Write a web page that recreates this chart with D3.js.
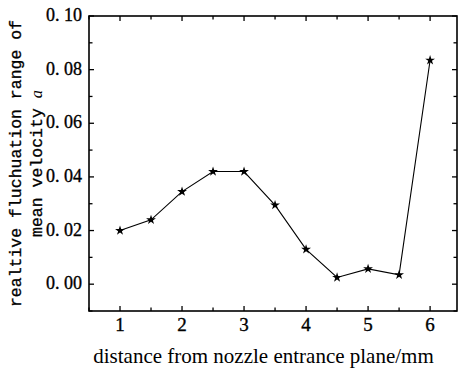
<!DOCTYPE html>
<html><head><meta charset="utf-8">
<script src="https://cdn.jsdelivr.net/npm/d3@7"></script>
<style>body{margin:0;background:#fff}svg{display:block}</style>
</head><body>
<script>
const distances = [1, 1.5, 2, 2.5, 3, 3.5, 4, 4.5, 5, 5.5, 6];
const fluctuation = [0.020, 0.024, 0.0345, 0.042, 0.042, 0.0295, 0.013, 0.0025, 0.0057, 0.0035, 0.0835];
const xTicks = [1, 2, 3, 4, 5, 6];
const yTicks = [0.00, 0.02, 0.04, 0.06, 0.08, 0.10];
const yTickLabels = ["0. 00", "0. 02", "0. 04", "0. 06", "0. 08", "0. 10"];

const W = 460, H = 371;
const m = {l: 89, t: 16, r: 2, b: 60};
const serif = "'Liberation Serif', 'Times New Roman', serif";
const svg = d3.select("body").append("svg").attr("width", W).attr("height", H);
const x = d3.scaleLinear().domain([0.5, 6.45]).range([m.l, W - m.r]);
const y = d3.scaleLinear().domain([-0.01, 0.10]).range([H - m.b, m.t]);
const black = "#000";

const xMinor = d3.range(0.5, 6.5, 0.5).filter(v => !xTicks.includes(v));
const yMinor = d3.range(-0.01, 0.1, 0.02).map(v => +v.toFixed(2));

function drawAxis(scale, major, minor, orient, pos) {
  const g = svg.append("g");
  const L = 5, Lm = 3.5;
  const all = major.map(v => [v, L]).concat(minor.map(v => [v, Lm]));
  all.forEach(([v, len]) => {
    const p = scale(v);
    let x1, y1, x2, y2;
    if (orient === "bottom") { x1 = x2 = p; y1 = pos; y2 = pos - len; }
    if (orient === "top") { x1 = x2 = p; y1 = pos; y2 = pos + len; }
    if (orient === "left") { y1 = y2 = p; x1 = pos; x2 = pos + len; }
    if (orient === "right") { y1 = y2 = p; x1 = pos; x2 = pos - len; }
    g.append("line").attr("x1", x1).attr("y1", y1).attr("x2", x2).attr("y2", y2)
      .attr("stroke", black).attr("stroke-width", 1.3);
  });
}
const x0 = x.range()[0], x1 = x.range()[1], y0 = y.range()[0], y1 = y.range()[1];
drawAxis(x, xTicks, xMinor, "bottom", y0);
drawAxis(x, xTicks, xMinor, "top", y1);
drawAxis(y, yTicks, yMinor, "left", x0);
drawAxis(y, yTicks, yMinor, "right", x1 - 1);

svg.append("rect").attr("x", x0).attr("y", y1).attr("width", x1 - x0 - 1).attr("height", y0 - y1)
  .attr("fill", "none").attr("stroke", black).attr("stroke-width", 1.6);

svg.append("g").selectAll("text").data(xTicks).join("text")
  .attr("x", d => x(d)).attr("y", y0 + 20).attr("text-anchor", "middle")
  .attr("font-family", serif).attr("font-size", 19).attr("stroke", black).attr("stroke-width", 0.35)
  .text(d => d);
svg.append("g").selectAll("text").data(yTicks).join("text")
  .attr("x", x0 - 7).attr("y", d => y(d) + 5).attr("text-anchor", "end")
  .attr("font-family", serif).attr("font-size", 18).attr("stroke", black).attr("stroke-width", 0.35)
  .text((d, i) => yTickLabels[i]);

const line = d3.line().x((d, i) => x(distances[i])).y(d => y(d));
svg.append("path").datum(fluctuation).attr("d", line).attr("fill", "none")
  .attr("stroke", black).attr("stroke-width", 1.1);
svg.append("g").selectAll("path").data(fluctuation).join("path")
  .attr("transform", (d, i) => `translate(${x(distances[i])},${y(d)})`)
  .attr("d", d3.symbol().type(d3.symbolStar).size(30)).attr("fill", black);

svg.append("text").attr("x", 263.5).attr("y", 363).attr("text-anchor", "middle")
  .attr("font-family", serif).attr("font-size", 21)
  .text("distance from nozzle entrance plane/mm");
const cy = (y0 + y1) / 2;
const yt = svg.append("text").attr("transform", `translate(21,${cy}) rotate(-90)`)
  .attr("text-anchor", "middle").attr("font-family", "'Liberation Mono', monospace")
  .attr("font-size", 16.5).attr("stroke", black).attr("stroke-width", 0.3);
yt.append("tspan").attr("x", 0).attr("dy", 0).text("realtive fluchuation range of");
const t2 = yt.append("tspan").attr("x", 0).attr("dy", 21);
t2.append("tspan").text("mean velocity ");
t2.append("tspan").attr("font-style", "italic").attr("font-family", serif).attr("stroke-width", 0).text("a");
</script>
</body></html>
